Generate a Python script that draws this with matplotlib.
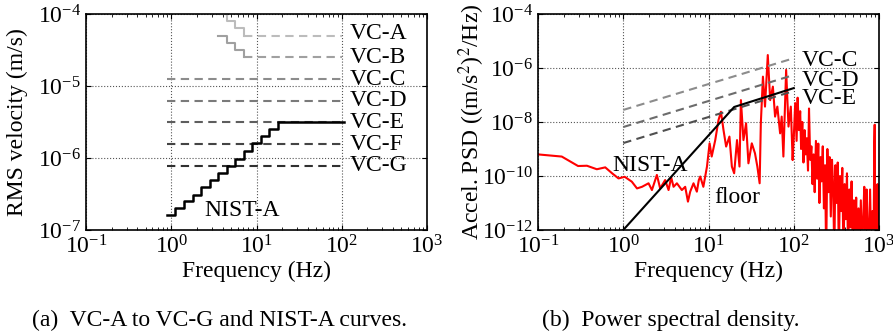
import numpy as np
import matplotlib
matplotlib.use("Agg")
import matplotlib.pyplot as plt

plt.rcParams['font.family'] = ['Liberation Serif', 'DejaVu Serif']
plt.rcParams['mathtext.fontset'] = 'stix'
plt.rcParams['font.size'] = 17

# ---- (a) RMS velocity criteria, one-third octave band edges (Hz) ----
band_edges = [0.89, 1.12, 1.41, 1.78, 2.24, 2.82, 3.55, 4.47, 5.62, 7.08,
              8.91, 11.2, 14.1, 17.8, 105]
nist_a_vel = [1.6e-7, 2.0e-7, 2.5e-7, 3.1e-7, 3.9e-7, 4.9e-7, 6.2e-7, 7.8e-7,
              9.8e-7, 1.25e-6, 1.6e-6, 2.0e-6, 2.5e-6, 3.15e-6, 3.15e-6]

vc_names = ['VC-A', 'VC-B', 'VC-C', 'VC-D', 'VC-E', 'VC-F', 'VC-G']
vc_levels = [5.0e-5, 2.5e-5, 1.25e-5, 6.25e-6, 3.12e-6, 1.56e-6, 7.8e-7]
vc_colors = ['#bcbcbc', '#a0a0a0', '#8c8c8c', '#7a7a7a', '#5e5e5e', '#444444', '#303030']
vc_start = [7.08, 7.08, 0.89, 0.89, 0.89, 0.89, 0.89]
vc_end = 100

# low-frequency steps of VC-A / VC-B (4, 5, 6.3 Hz bands)
low_edges = [3.55, 4.47, 5.62, 7.08]
vca_low = [1.01e-4, 8.1e-5, 6.4e-5, 5.0e-5]
vcb_low = [5.0e-5, 4.0e-5, 3.2e-5, 2.5e-5]

psd_freq = [0.1, 0.19, 0.295, 0.375, 0.49, 0.615, 0.74, 0.88, 1.04, 1.26, 1.45,
            1.66, 1.98, 2.17, 2.48, 2.71, 3.1, 3.4, 3.65, 3.89, 4.26, 4.87, 5.33,
            5.74, 6.1, 6.67, 7.3, 7.7,
            8.0, 8.7, 9.6, 10.3, 10.9, 12.0, 13.1, 14.0, 15.0, 16.1, 17.6, 18.8,
            20.0, 21.6, 23.1, 24.0, 25.7, 27.6, 29.4, 32.2, 35.1, 37.4, 39.8, 41.1,
            43.5, 46.0, 49.6, 52.9, 56.9, 60.4, 64.2, 69.2, 72.2, 75.6, 81.4, 86.8,
            92.4, 97,
            100, 104, 108, 111, 115, 119, 122, 126, 130, 134, 138, 142, 147, 151,
            156, 161, 166, 171, 176, 182, 188, 194, 200, 206, 212, 219, 226, 233,
            240, 248, 256, 264, 272, 281, 290, 299, 308, 318, 328, 338, 349, 360,
            371, 383, 395, 408, 421, 434, 448, 462, 477, 492, 508, 524, 540, 557,
            575, 593, 612, 632, 652, 672, 694, 716, 738, 762, 786, 811, 837, 863,
            880, 890, 900, 915, 935, 960, 985, 1000]
psd_log = [-9.20, -9.28, -9.63, -9.62, -9.75, -9.68, -9.90, -10.09, -10.03, -10.21,
           -10.46, -10.40, -10.27, -10.52, -9.96, -10.46, -10.15, -10.52, -10.05,
           -10.40, -10.27, -10.52, -10.40, -10.95, -10.58, -10.27, -10.58, -10.15,
           -10.02, -10.40, -9.65, -8.79, -9.28, -8.67, -7.93, -7.62, -8.30, -8.91,
           -8.54, -9.65, -9.90, -8.67, -9.65, -7.19, -8.67, -8.05, -9.53, -8.79,
           -9.16, -9.65, -10.27, -8.05, -6.32, -7.43, -5.52, -7.19, -6.69, -7.80,
           -7.43, -8.42, -7.80, -9.28, -6.07, -8.17, -7.43, -9.41,
           -8.6, -7.3, -8.7, -7.1, -8.3, -7.6, -9.0, -8.0, -9.5, -8.3, -9.2, -8.6,
           -9.8, -7.5, -9.4, -8.9, -10.3, -9.2, -10.6, -8.7, -10.1, -8.8, -11.0,
           -9.3, -10.2, -8.9, -11.2, -9.6, -13, -9.0, -10.6, -9.3, -11.5, -9.4,
           -10.4, -13, -9.6, -11.0, -9.5, -13, -10.0, -11.3, -9.7, -13, -10.3,
           -11.6, -9.9, -13, -10.5, -11.9, -10.2, -13, -10.9, -12.2, -10.8, -13,
           -11.2, -13, -10.9, -13, -11.6, -10.4, -13, -10.5, -11.9, -13, -10.5,
           -13, -11.3, -13, -8.9, -8.1, -13, -10.4, -13, -10.3, -13, -11.8]

nist_psd_freq = [1, 20, 100]
nist_psd = [1e-12, 3.6e-8, 1.8e-7]

psd_vc_names = ['VC-C', 'VC-D', 'VC-E']
psd_vc_1hz = [2.8e-8, 6.5e-9, 1.66e-9]
psd_vc_100hz = [2.3e-6, 5.5e-7, 1.4e-7]
psd_vc_colors = ['#8c8c8c', '#6c6c6c', '#505050']

fig = plt.figure(figsize=(8.93, 3.31), dpi=100)
ax1 = fig.add_axes([86 / 893, 101 / 331, 341 / 893, 216 / 331])
ax2 = fig.add_axes([538 / 893, 101 / 331, 341 / 893, 216 / 331])

dash = (4, 2.6)

# (a)
for i in range(len(vc_names)):
    ax1.plot([vc_start[i], vc_end], [vc_levels[i]] * 2, color=vc_colors[i],
             lw=1.5, dashes=dash)
    ax1.text(125, vc_levels[i] * (1.08 if i == 0 else 1.0), vc_names[i],
             va='center', ha='left', fontsize=17)
ax1.step(low_edges, vca_low, where='post', color=vc_colors[0], lw=1.5)
ax1.step(low_edges, vcb_low, where='post', color=vc_colors[1], lw=1.5)
ax1.step(band_edges, nist_a_vel, where='post', color='black', lw=1.8)
ax1.text(2.45, 1.85e-7, 'NIST-A', va='center', ha='left', fontsize=17)

ax1.set_xlim(0.1, 1000)
ax1.set_ylim(1e-7, 1e-4)
ax1.set_ylabel('RMS velocity (m/s)')
ax1.yaxis.set_label_coords(-0.17, 0.5)

# (b)
ax2.plot(psd_freq, 10.0 ** np.array(psd_log), color='red', lw=1.5)
for i in range(len(psd_vc_names)):
    ax2.plot([1, 100], [psd_vc_1hz[i], psd_vc_100hz[i]], color=psd_vc_colors[i],
             lw=1.5, dashes=dash)
ax2.plot(nist_psd_freq, nist_psd, color='black', lw=1.5)
ax2.text(125, 10 ** -5.72, 'VC-C', va='center', ha='left', fontsize=17)
ax2.text(125, 10 ** -6.46, 'VC-D', va='center', ha='left', fontsize=17)
ax2.text(125, 10 ** -7.13, 'VC-E', va='center', ha='left', fontsize=17)
ax2.text(0.75, 10 ** -9.6, 'NIST-A', va='center', ha='left', fontsize=17)
ax2.text(11.8, 10 ** -10.8, 'floor', va='center', ha='left', fontsize=17)

ax2.set_xlim(0.1, 1000)
ax2.set_ylim(1e-12, 1e-4)
ax2.set_yticks([1e-12, 1e-10, 1e-8, 1e-6, 1e-4])
ax2.set_ylabel('Accel. PSD ((m/s$^2$)$^2$/Hz)')
ax2.yaxis.set_label_coords(-0.15, 0.5)

for ax in (ax1, ax2):
    ax.set_xscale('log')
    ax.set_yscale('log')
    ax.set_xticks([0.1, 1, 10, 100, 1000])
    ax.set_xlabel('Frequency (Hz)', labelpad=2)
    ax.grid(True, which='major', linestyle=':', color='#555555', lw=0.8)
    ax.tick_params(which='both', direction='in', top=True, right=True,
                   labelsize=17)
    ax.tick_params(axis='y', which='minor', left=False, right=False)
    for s in ax.spines.values():
        s.set_linewidth(1.2)

fig.text(220 / 893, 1 - 320 / 331, '(a)  VC-A to VC-G and NIST-A curves.',
         ha='center', va='center', fontsize=17)
fig.text(671 / 893, 1 - 320 / 331, '(b)  Power spectral density.',
         ha='center', va='center', fontsize=17)

fig.savefig('out.png', dpi=100)
